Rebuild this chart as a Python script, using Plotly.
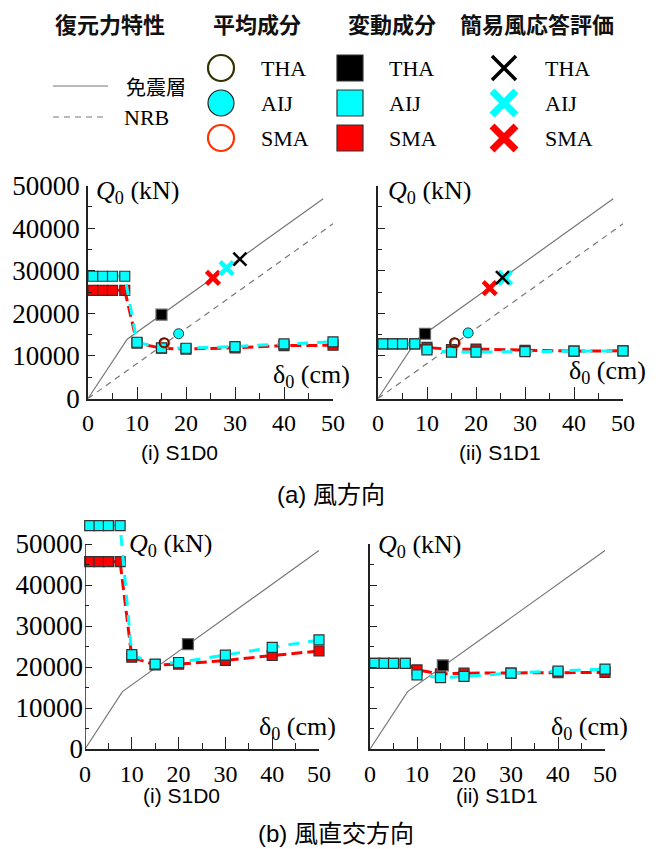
import plotly.graph_objects as go

# ---------------- data ----------------
disp_var = [1, 3, 5, 7.5, 10, 15, 20, 30, 40, 50]

# isolation layer (免震層) bilinear & NRB lines
iso_x_a = [0, 8, 48]
iso_q_a = [0, 13900, 46900]
iso_x_b = [0, 8, 50]
iso_q_b = [0, 14000, 48400]
nrb_x = [0, 50]
nrb_q = [0, 41000]

# (a)(i) S1D0 wind direction
a1_aij = [28700, 28700, 28700, 28700, 13200, 11900, 11800, 12200, 12800, 13300]
a1_sma = [25400, 25400, 25400, 25400, 13000, 11800, 11600, 11900, 12400, 12500]
a1_tha_var = ([15], [19700])
a1_mean_tha = ([15.5], [13100])
a1_mean_sma = ([15.7], [13000])
a1_mean_aij = ([18.5], [15200])
a1_x_tha = ([31.0], [32700])
a1_x_aij = ([28.3], [30600])
a1_x_sma = ([25.5], [28300])

# (a)(ii) S1D1 wind direction
a2_aij = [12800, 12800, 12800, 12800, 11400, 10900, 10900, 11000, 11100, 11200]
a2_sma = [12800, 12800, 12800, 12800, 12000, 11500, 11600, 11300, 11100, 11200]
a2_tha_var = ([9.6], [15200])
a2_mean_tha = ([15.6], [13100])
a2_mean_sma = ([15.8], [13000])
a2_mean_aij = ([18.4], [15400])
a2_x_tha = ([25.4], [28400])
a2_x_aij = ([25.9], [28300])
a2_x_sma = ([22.8], [25900])

# (b)(i) S1D0 across-wind
b1_aij = [54500, 54500, 54500, 54500, 23000, 20700, 21100, 22900, 24800, 26600]
b1_sma = [45700, 45700, 45700, 45700, 22400, 20500, 20700, 21600, 22800, 23900]
b1_tha_var = ([22], [25600])

# (b)(ii) S1D1 across-wind
b2_aij = [20900, 20900, 20900, 20900, 18100, 17400, 17700, 18500, 19000, 19500]
b2_sma = [20900, 20900, 20900, 20900, 19300, 18300, 18500, 18500, 18600, 18700]
b2_tha_var = ([15.5], [20400])

y_ticks = [0, 10000, 20000, 30000, 40000, 50000]
x_ticks = [0, 10, 20, 30, 40, 50]

# ---------------- layout helpers ----------------
W, H = 662, 849
SERIF = "Liberation Serif, Times New Roman, serif"
SANS = "Liberation Sans, Arial, Noto Sans CJK JP, sans-serif"
CJK = "Noto Sans CJK JP, sans-serif"
AX = "#222222"
CYAN = "#00FFFF"
RED = "#FF0000"
GRAY = "#777777"
THA_C = "#333300"
SMA_C = "#FF3300"


def xd(a, b):
    return [a / W, b / W]


def yd(top, bottom):
    return [1 - bottom / H, 1 - top / H]


fig = go.Figure()


def add_panel(n, iso_x, iso_q, nrb, sma, aij, tha_var, means=None, xs=None):
    xa, ya = f"x{n}", f"y{n}"
    fig.add_trace(go.Scatter(x=iso_x, y=iso_q, mode="lines", xaxis=xa, yaxis=ya,
                             line=dict(color=GRAY, width=1.2), showlegend=False))
    if nrb:
        fig.add_trace(go.Scatter(x=nrb_x, y=nrb_q, mode="lines", xaxis=xa, yaxis=ya,
                                 line=dict(color=GRAY, width=1.2, dash="6px,5px"),
                                 showlegend=False))
    fig.add_trace(go.Scatter(x=disp_var, y=sma, mode="lines+markers", xaxis=xa, yaxis=ya,
                             cliponaxis=False,
                             line=dict(color=RED, width=3, dash="11px,5px"),
                             marker=dict(symbol="square", size=10, color=RED,
                                         line=dict(color="#333333", width=1.2)),
                             showlegend=False))
    fig.add_trace(go.Scatter(x=disp_var, y=aij, mode="lines+markers", xaxis=xa, yaxis=ya,
                             cliponaxis=False,
                             line=dict(color=CYAN, width=3, dash="11px,9px"),
                             marker=dict(symbol="square", size=10, color=CYAN,
                                         line=dict(color="#333333", width=1.2)),
                             showlegend=False))
    fig.add_trace(go.Scatter(x=tha_var[0], y=tha_var[1], mode="markers", xaxis=xa, yaxis=ya,
                             cliponaxis=False,
                             marker=dict(symbol="square", size=11, color="black",
                                         line=dict(color="#666666", width=1.2)),
                             showlegend=False))
    if means:
        m_tha, m_sma, m_aij = means
        fig.add_trace(go.Scatter(x=m_sma[0], y=m_sma[1], mode="markers", xaxis=xa, yaxis=ya,
                                 cliponaxis=False,
                                 marker=dict(symbol="circle-open", size=9, color=SMA_C,
                                             line=dict(color=SMA_C, width=1.8)),
                                 showlegend=False))
        fig.add_trace(go.Scatter(x=m_tha[0], y=m_tha[1], mode="markers", xaxis=xa, yaxis=ya,
                                 cliponaxis=False,
                                 marker=dict(symbol="circle-open", size=9, color="#5a1500",
                                             line=dict(color="#5a1500", width=1.8)),
                                 showlegend=False))
        fig.add_trace(go.Scatter(x=m_aij[0], y=m_aij[1], mode="markers", xaxis=xa, yaxis=ya,
                                 cliponaxis=False,
                                 marker=dict(symbol="circle", size=10, color=CYAN,
                                             line=dict(color="#333333", width=1)),
                                 showlegend=False))
    if xs:
        x_tha, x_aij, x_sma = xs
        for pts, col, w in [(x_sma, RED, 4.5), (x_aij, CYAN, 4.5), (x_tha, "black", 2.5)]:
            fig.add_trace(go.Scatter(x=pts[0], y=pts[1], mode="markers", xaxis=xa, yaxis=ya,
                                     cliponaxis=False,
                                     marker=dict(symbol="x-thin", size=13, color=col,
                                                 line=dict(color=col, width=w)),
                                     showlegend=False))


add_panel(1, iso_x_a, iso_q_a, True, a1_sma, a1_aij, a1_tha_var,
          (a1_mean_tha, a1_mean_sma, a1_mean_aij), (a1_x_tha, a1_x_aij, a1_x_sma))
add_panel(2, iso_x_a, iso_q_a, True, a2_sma, a2_aij, a2_tha_var,
          (a2_mean_tha, a2_mean_sma, a2_mean_aij), (a2_x_tha, a2_x_aij, a2_x_sma))
add_panel(3, iso_x_b, iso_q_b, False, b1_sma, b1_aij, b1_tha_var)
add_panel(4, iso_x_b, iso_q_b, False, b2_sma, b2_aij, b2_tha_var)


def xaxis(dom, anchor):
    return dict(domain=xd(*dom), anchor=anchor, range=[0, 50], tickvals=x_ticks,
                ticktext=[str(v) for v in x_ticks], automargin=False,
                ticks="inside", ticklen=12, tickwidth=1.2, tickcolor=AX,
                minor=dict(ticks="inside", ticklen=6, tickwidth=1.2, tickcolor=AX,
                           tickvals=[5, 15, 25, 35, 45]),
                showline=True, linecolor=AX, linewidth=1.5, showgrid=False,
                zeroline=False, tickfont=dict(family=SERIF, size=24, color="black"),
                ticklabelstandoff=2)


def yaxis(top, bottom, anchor, labels, yr=50000, line=True):
    return dict(domain=yd(top, bottom), anchor=anchor, range=[0, yr], tickvals=y_ticks,
                ticktext=[str(v) for v in y_ticks], showticklabels=labels, automargin=False,
                ticks="inside", ticklen=7, tickwidth=1.2, tickcolor=AX,
                minor=dict(ticks="inside", ticklen=4, tickwidth=1.2, tickcolor=AX,
                           tickvals=[5000, 15000, 25000, 35000, 45000]),
                showline=line, linecolor=AX, linewidth=1.5, showgrid=False,
                zeroline=False, tickfont=dict(family=SERIF, size=27, color="black"),
                ticklabelstandoff=1)


B_TOP = 749 - 205 * 56000 / 50000

fig.update_layout(
    width=W, height=H, margin=dict(l=0, r=0, t=0, b=0, autoexpand=False),
    paper_bgcolor="white", plot_bgcolor="rgba(0,0,0,0)",
    xaxis=xaxis((88, 333), "y"), yaxis=yaxis(185.5, 398.5, "x", True),
    xaxis2=xaxis((378, 623), "y2"), yaxis2=yaxis(185.5, 398.5, "x2", False),
    xaxis3=xaxis((85, 319), "y3"), yaxis3=yaxis(B_TOP, 749, "x3", True, 56000, False),
    xaxis4=xaxis((370, 605), "y4"), yaxis4=yaxis(544, 749, "x4", False),
    xaxis5=dict(domain=[0, 1], anchor="y5", range=[0, W], visible=False, fixedrange=True,
                automargin=False),
    yaxis5=dict(domain=yd(0, 160), anchor="x5", range=[160, 0], visible=False,
                fixedrange=True, automargin=False),
    showlegend=False,
)

# spine for (b)(i) up to 50000 only
fig.add_shape(type="line", xref="x3", yref="y3", x0=0, x1=0, y0=0, y1=50000,
              line=dict(color=AX, width=1.5))

# ---------------- custom legend (top) ----------------
legend_rows = [68, 103, 138]
leg_labels = ["THA", "AIJ", "SMA"]

fig.add_trace(go.Scatter(x=[53, 108], y=[86, 86], mode="lines", xaxis="x5", yaxis="y5",
                         line=dict(color=GRAY, width=1.2), showlegend=False))
fig.add_trace(go.Scatter(x=[53, 108], y=[117, 117], mode="lines", xaxis="x5", yaxis="y5",
                         line=dict(color=GRAY, width=1.2, dash="6px,5px"), showlegend=False))
# circles
circ_styles = [dict(symbol="circle-open", size=26, color=THA_C, line=dict(color=THA_C, width=2.2)),
               dict(symbol="circle", size=26, color=CYAN, line=dict(color="#222222", width=1.2)),
               dict(symbol="circle-open", size=26, color=SMA_C, line=dict(color=SMA_C, width=2.2))]
for yy, st in zip(legend_rows, circ_styles):
    fig.add_trace(go.Scatter(x=[221], y=[yy], mode="markers", xaxis="x5", yaxis="y5",
                             cliponaxis=False, marker=st, showlegend=False))
sq_cols = ["black", CYAN, RED]
for yy, c in zip(legend_rows, sq_cols):
    fig.add_trace(go.Scatter(x=[350], y=[yy], mode="markers", xaxis="x5", yaxis="y5",
                             cliponaxis=False,
                             marker=dict(symbol="square", size=26, color=c,
                                         line=dict(color="#333333", width=1.2)),
                             showlegend=False))
x_styles = [("black", 3.5), (CYAN, 7), (RED, 7)]
for yy, (c, w) in zip(legend_rows, x_styles):
    fig.add_trace(go.Scatter(x=[504], y=[yy], mode="markers", xaxis="x5", yaxis="y5",
                             cliponaxis=False,
                             marker=dict(symbol="x-thin", size=24, color=c,
                                         line=dict(color=c, width=w)),
                             showlegend=False))

ann = []
headings = [("復元力特性", 110), ("平均成分", 257), ("変動成分", 392), ("簡易風応答評価", 537)]
for t, cx in headings:
    ann.append(dict(text=f"<b>{t}</b>", x=cx, y=23, xref="x5", yref="y5", showarrow=False,
                    xanchor="center", yanchor="middle",
                    font=dict(family=CJK, size=22, color="#111111")))
ann.append(dict(text="免震層", x=124, y=86, xref="x5", yref="y5", showarrow=False,
                xanchor="left", yanchor="middle", font=dict(family=CJK, size=20, color="black")))
ann.append(dict(text="NRB", x=122, y=117, xref="x5", yref="y5", showarrow=False,
                xanchor="left", yanchor="middle", font=dict(family=SERIF, size=22, color="black")))
for lx in [259, 387, 543]:
    for yy, t in zip(legend_rows, leg_labels):
        ann.append(dict(text=t, x=lx, y=yy, xref="x5", yref="y5", showarrow=False,
                        xanchor="left", yanchor="middle",
                        font=dict(family=SERIF, size=22, color="black")))


def pann(text, x, y, xanchor, size, family, color="black"):
    ann.append(dict(text=text, x=x / W, y=1 - y / H, xref="paper", yref="paper",
                    showarrow=False, xanchor=xanchor, yanchor="middle",
                    font=dict(family=family, size=size, color=color)))


Q = "<i>Q</i><sub>0</sub> (kN)"
D = "δ<sub>0</sub> (cm)"
pann(Q, 94, 192, "left", 26, SERIF)
pann(Q, 386, 192, "left", 26, SERIF)
pann(Q, 127, 545, "left", 26, SERIF)
pann(Q, 376, 546, "left", 26, SERIF)
pann(D, 352, 376, "right", 26, SERIF)
pann(D, 648, 372, "right", 26, SERIF)
pann(D, 338, 728, "right", 26, SERIF)
pann(D, 630, 728, "right", 26, SERIF)

pann("(i) S1D0", 179, 452, "center", 21, SANS)
pann("(ii) S1D1", 500, 452, "center", 21, SANS)
pann("(i) S1D0", 181, 795, "center", 21, SANS)
pann("(ii) S1D1", 497, 795, "center", 21, SANS)
pann("(a) 風方向", 331, 494, "center", 24, SANS)
pann("(b) 風直交方向", 336, 833, "center", 24, SANS)

fig.update_layout(annotations=ann)
fig.write_html("out.html", config={"displayModeBar": False},
               post_script="document.body.style.margin='0px';document.body.style.padding='0px';")
